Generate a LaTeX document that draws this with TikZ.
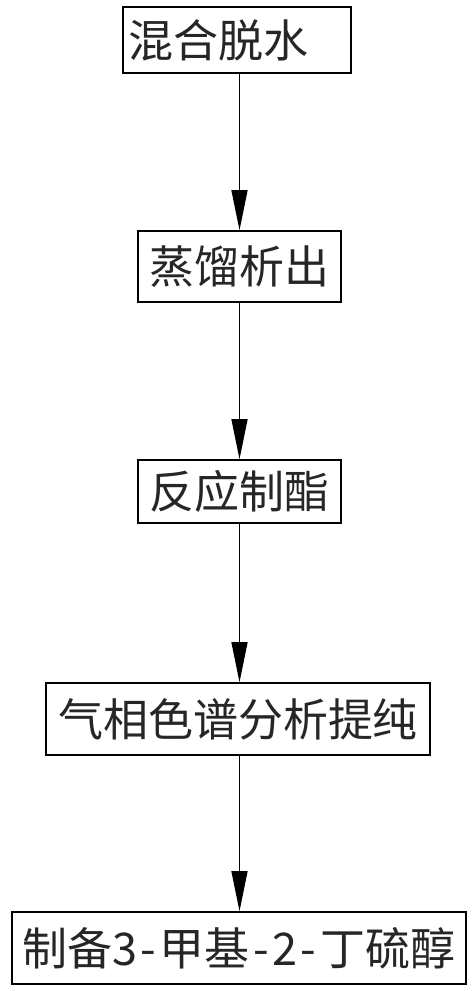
\documentclass[tikz,border=0pt]{standalone}
\usepackage{fontspec}
\newfontfamily\cjk{Noto Sans CJK SC}
\usetikzlibrary{arrows.meta}
\newcommand{\hw}[1]{\makebox[23.5pt]{#1}}
\begin{document}
\begin{tikzpicture}[x=1pt,y=-1pt,
  stepbox/.style={draw=black, line width=1.6pt, rectangle, inner sep=0pt,
    font=\cjk\fontsize{45}{45}\selectfont, text=black!85},
  flow/.style={draw=black, line width=1.3pt, -{Triangle[length=40pt,width=16pt]}}]
\useasboundingbox (0,0) rectangle (474,991);
\node[stepbox, minimum height=66pt, text width=218pt, inner xsep=5pt, align=left] (b1) at (237,40) {\raisebox{-3pt}{混合脱水}};
\node[stepbox, minimum width=203pt, minimum height=71pt] (b2) at (239.5,266.5) {蒸馏析出};
\node[stepbox, minimum width=203pt, minimum height=63pt] (b3) at (239.5,491.5) {反应制酯};
\node[stepbox, minimum width=384pt, minimum height=72pt] (b4) at (238,719) {气相色谱分析提纯};
\node[stepbox, minimum width=454pt, minimum height=72pt] (b5) at (239,948) {制备\hw{3}\hw{-}甲基\hw{-}\hw{2}\hw{-}丁硫醇};
\draw[flow] (b1.south -| b2.north) -- (b2.north);
\draw[flow] (b2.south) -- (b3.north);
\draw[flow] (b3.south) -- (b3.south |- b4.north);
\draw[flow] (b3.south |- b4.south) -- (b3.south |- b5.north);
\end{tikzpicture}
\end{document}
